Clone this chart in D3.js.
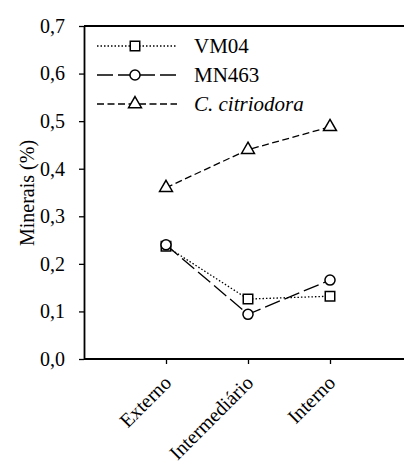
<!DOCTYPE html>
<html>
<head>
<meta charset="utf-8">
<script src="https://cdn.jsdelivr.net/npm/d3@7"></script>
<style>
  body { margin: 0; background: #fff; }
  svg text { font-family: 'Liberation Serif', 'Times New Roman', serif; fill: #000; }
</style>
</head>
<body>
<div id="chart"></div>
<script>
// data
var posicoes = ["Externo", "Intermediário", "Interno"];
var vm04 = [0.237, 0.126, 0.132];
var mn463 = [0.240, 0.094, 0.166];
var citriodora = [0.360, 0.440, 0.488];
var yTicks = [0, 0.1, 0.2, 0.3, 0.4, 0.5, 0.6, 0.7];

var series = [
  {name: "VM04", values: vm04, dash: "1.5,2", symbol: d3.symbolSquare, italic: false},
  {name: "MN463", values: mn463, dash: "16,5", symbol: d3.symbolCircle, italic: false},
  {name: "C. citriodora", values: citriodora, dash: "7,3.5", symbol: d3.symbolTriangle, italic: true}
];

var W = 404, H = 468;
var margin = {left: 84, top: 26, bottom: 359, right: 412};
var serif = "'Liberation Serif', 'Times New Roman', serif";

var svg = d3.select("#chart")
  .append("svg")
  .attr("width", W)
  .attr("height", H)
  .attr("font-family", serif);

var x = d3.scalePoint()
  .domain(posicoes)
  .range([margin.left, margin.right])
  .padding(1);

var y = d3.scaleLinear()
  .domain([0, 0.7])
  .range([margin.bottom, margin.top]);

var fmt = function(d){ return d3.format(".1f")(d).replace(".", ","); };

// top frame line
svg.append("line")
  .attr("x1", margin.left).attr("x2", W)
  .attr("y1", margin.top).attr("y2", margin.top)
  .attr("stroke", "#000").attr("stroke-width", 1.8);

// Y axis
var yAxis = svg.append("g")
  .attr("transform", "translate(" + margin.left + ",0)")
  .call(d3.axisLeft(y).tickValues(yTicks).tickFormat(fmt).tickSize(5).tickPadding(14).tickSizeOuter(0));
yAxis.attr("font-family", serif);
yAxis.select(".domain").attr("stroke-width", 1.8);
yAxis.selectAll("line").attr("stroke-width", 1.3);
yAxis.selectAll("text")
  .style("font-family", serif)
  .style("font-size", "20px");

// X axis
var xAxis = svg.append("g")
  .attr("transform", "translate(0," + margin.bottom + ")")
  .call(d3.axisBottom(x).tickSize(5).tickSizeOuter(0));
xAxis.attr("font-family", serif);
xAxis.select(".domain").attr("d", "M" + margin.left + ",0H" + W).attr("stroke-width", 1.8);
xAxis.selectAll("line").attr("stroke-width", 1.3);
xAxis.selectAll("text")
  .style("font-family", serif)
  .style("font-size", "20px")
  .attr("text-anchor", "end")
  .attr("x", 0)
  .attr("y", 0)
  .attr("dy", 0)
  .attr("transform", "translate(6,25) rotate(-45)");

// Y label
svg.append("text")
  .attr("transform", "translate(34," + 193 + ") rotate(-90)")
  .attr("text-anchor", "middle")
  .style("font-family", serif)
  .style("font-size", "20px")
  .text("Minerais (%)");

// lines and markers
var line = d3.line()
  .x(function(d, i){ return x(posicoes[i]); })
  .y(function(d){ return y(d); });

var symSize = function(t){ return t === d3.symbolTriangle ? 72 : (t === d3.symbolCircle ? 80 : 90); };

series.forEach(function(s){
  svg.append("path")
    .datum(s.values)
    .attr("d", line)
    .attr("fill", "none")
    .attr("stroke", "#000")
    .attr("stroke-width", 1.3)
    .attr("stroke-dasharray", s.dash);

  svg.selectAll(null)
    .data(s.values)
    .enter()
    .append("path")
    .attr("d", d3.symbol().type(s.symbol).size(symSize(s.symbol)))
    .attr("transform", function(d, i){ return "translate(" + x(posicoes[i]) + "," + y(d) + ")"; })
    .attr("fill", "#fff")
    .attr("stroke", "#000")
    .attr("stroke-width", 1.5);
});

// legend
var legend = svg.append("g").attr("transform", "translate(97,46)");
series.forEach(function(s, i){
  var row = legend.append("g").attr("transform", "translate(0," + (i * 29) + ")");
  row.append("line")
    .attr("x1", 0).attr("x2", 80)
    .attr("stroke", "#000")
    .attr("stroke-width", 1.3)
    .attr("stroke-dasharray", s.dash);
  row.append("path")
    .attr("d", d3.symbol().type(s.symbol).size(symSize(s.symbol)))
    .attr("transform", "translate(38,0)")
    .attr("fill", "#fff")
    .attr("stroke", "#000")
    .attr("stroke-width", 1.5);
  row.append("text")
    .attr("x", 97)
    .attr("y", 7)
    .style("font-family", serif)
    .style("font-size", "21px")
    .style("font-style", s.italic ? "italic" : "normal")
    .text(s.name);
});
</script>
</body>
</html>
